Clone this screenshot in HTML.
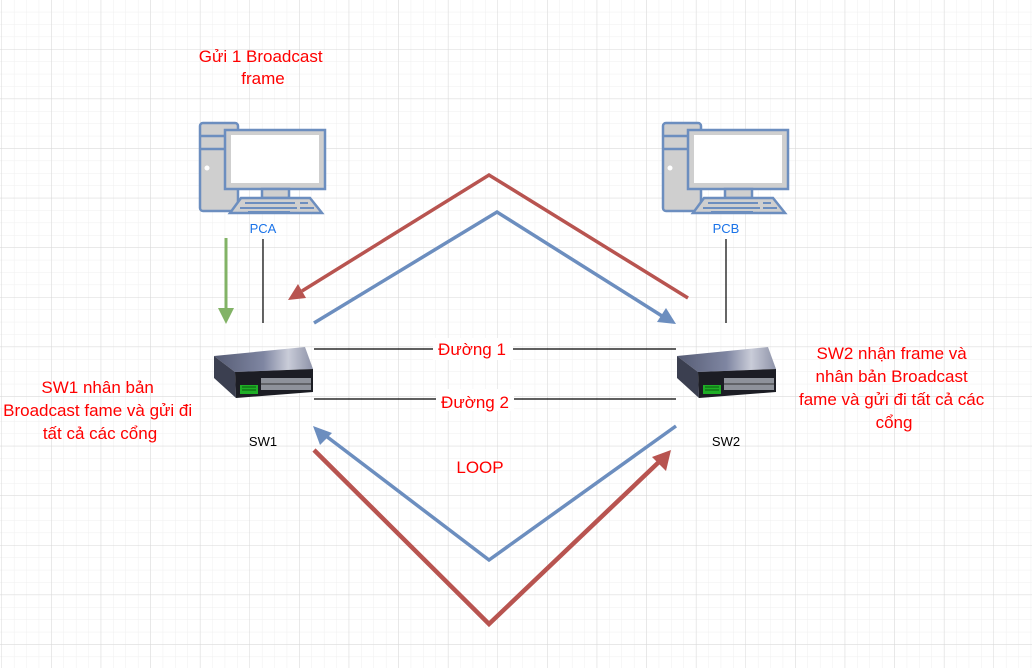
<!DOCTYPE html>
<html><head><meta charset="utf-8"><style>
html,body{margin:0;padding:0;background:#fff;}
svg{display:block;font-family:"Liberation Sans",sans-serif;}
</style></head><body>
<svg width="1032" height="668" viewBox="0 0 1032 668" xmlns="http://www.w3.org/2000/svg">
<defs>
<pattern id="minor" x="1.5" y="-0.6" width="12.4" height="12.4" patternUnits="userSpaceOnUse">
<path d="M0 0H12.4M0 0V12.4" stroke="#efefef" stroke-width="1" fill="none"/>
</pattern>
<pattern id="major" x="1.5" y="-0.6" width="49.6" height="49.6" patternUnits="userSpaceOnUse">
<path d="M0 0H49.6M0 0V49.6" stroke="#d8d8d8" stroke-width="1" fill="none"/>
</pattern>
<linearGradient id="swtop" x1="0" y1="0" x2="1" y2="0">
<stop offset="0" stop-color="#555b73"/><stop offset="0.5" stop-color="#7f86a2"/><stop offset="0.75" stop-color="#c9ccd8"/><stop offset="1" stop-color="#8d92a8"/>
</linearGradient>
<g id="pc">
<rect x="0" y="0" width="38" height="88" rx="3" fill="#cfcfcf" stroke="#6c8ebf" stroke-width="2.5"/>
<line x1="0" y1="13" x2="38" y2="13" stroke="#6c8ebf" stroke-width="2.5"/>
<line x1="0" y1="26" x2="38" y2="26" stroke="#6c8ebf" stroke-width="2.5"/>
<circle cx="7" cy="45" r="2.5" fill="#fff"/>
<rect x="25" y="7" width="100" height="59" fill="#cfcfcf" stroke="#6c8ebf" stroke-width="2.5"/>
<rect x="31" y="12" width="88" height="48" fill="#fff"/>
<rect x="62" y="66" width="27" height="9" fill="#cfcfcf" stroke="#6c8ebf" stroke-width="2.5"/>
<path d="M41 75H110L122 90H30Z" fill="#cfcfcf" stroke="#6c8ebf" stroke-width="2.5"/>
<path d="M45 80H95M100 80H108M40 85H97M100 85H114M48 89H90" stroke="#6c8ebf" stroke-width="2"/>
</g>
<g id="sw">
<path d="M1 9L92 0L100 22L22 25Z" fill="url(#swtop)"/>
<path d="M1 9L22 25L23 51L1 31Z" fill="#3b3f50"/>
<path d="M22 25L100 22L100 45L23 51Z" fill="#1c1d24"/>
<rect x="27" y="38" width="18" height="9" fill="#1fae26"/>
<path d="M29 40H43M29 43H43" stroke="#0a5a0e" stroke-width="1"/>
<rect x="48" y="31" width="50" height="12" fill="#8e929a"/>
<path d="M48 37H98" stroke="#333" stroke-width="1"/>
</g>
</defs>
<rect width="1032" height="668" fill="url(#minor)"/>
<rect width="1032" height="668" fill="url(#major)"/>

<use href="#pc" x="200" y="123"/>
<use href="#pc" x="663" y="123"/>
<text x="263" y="233" font-size="13" fill="#1a73e8" text-anchor="middle">PCA</text>
<text x="726" y="233" font-size="13" fill="#1a73e8" text-anchor="middle">PCB</text>

<line x1="263" y1="239" x2="263" y2="323" stroke="#000" stroke-width="1.2"/>
<line x1="726" y1="239" x2="726" y2="323" stroke="#000" stroke-width="1.2"/>

<use href="#sw" x="213" y="347"/>
<use href="#sw" x="676" y="347"/>
<text x="263" y="446" font-size="13" fill="#000" text-anchor="middle">SW1</text>
<text x="726" y="446" font-size="13" fill="#000" text-anchor="middle">SW2</text>

<line x1="314" y1="349" x2="676" y2="349" stroke="#000" stroke-width="1.2"/>
<line x1="314" y1="399" x2="676" y2="399" stroke="#000" stroke-width="1.2"/>
<rect x="433" y="338" width="80" height="22" fill="#fff"/>
<rect x="436" y="389" width="78" height="22" fill="#fff"/>
<text x="472" y="355" font-size="17" fill="#ff0000" text-anchor="middle">Đường 1</text>
<text x="475" y="408" font-size="17" fill="#ff0000" text-anchor="middle">Đường 2</text>
<text x="480" y="473" font-size="17" fill="#ff0000" text-anchor="middle">LOOP</text>

<line x1="226" y1="238" x2="226" y2="312" stroke="#82b366" stroke-width="3"/>
<path d="M218 308L226 324L234 308Z" fill="#82b366"/>

<polyline points="688,298 489,175 302,291" fill="none" stroke="#b85450" stroke-width="3.5"/>
<path d="M288 300L298 284L306 298Z" fill="#b85450"/>
<polyline points="314,323 497,212 662,316" fill="none" stroke="#6c8ebf" stroke-width="3.5"/>
<path d="M676 324L657 322L666 308Z" fill="#6c8ebf"/>
<polyline points="676,426 489,560 326,436" fill="none" stroke="#6c8ebf" stroke-width="3.5"/>
<path d="M313 426L320 445L332 433Z" fill="#6c8ebf"/>
<polyline points="314,450 489,624 661,460" fill="none" stroke="#b85450" stroke-width="4.5"/>
<path d="M671 450L666 471L652 457Z" fill="#b85450"/>

<text font-size="17" fill="#ff0000" text-anchor="middle">
<tspan x="263" y="62">Gửi 1 Broadcast</tspan>
<tspan x="263" y="84">frame</tspan>
</text>
<text font-size="17" fill="#ff0000" text-anchor="middle">
<tspan x="100" y="393">SW1 nhân bản</tspan>
<tspan x="100" y="416">Broadcast fame và gửi đi</tspan>
<tspan x="100" y="439">tất cả các cổng</tspan>
</text>
<text font-size="17" fill="#ff0000" text-anchor="middle">
<tspan x="894" y="359">SW2 nhận frame và</tspan>
<tspan x="894" y="382">nhân bản Broadcast</tspan>
<tspan x="894" y="405">fame và gửi đi tất cả các</tspan>
<tspan x="894" y="428">cổng</tspan>
</text>
</svg>
</body></html>
